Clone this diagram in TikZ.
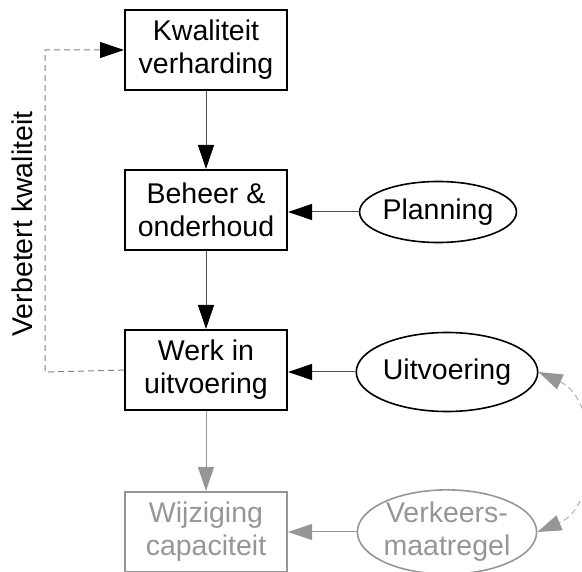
\documentclass[tikz,border=0pt]{standalone}
\usepackage{fontspec}
\setmainfont{Liberation Sans}
\usetikzlibrary{shapes.geometric,arrows.meta}
\definecolor{fade}{RGB}{150,150,150}
\definecolor{linec}{RGB}{80,80,80}
\definecolor{dashc}{RGB}{130,130,130}
\definecolor{dashl}{RGB}{175,175,175}
\tikzset{
  boxn/.style={draw=black, line width=2pt, minimum width=162pt, minimum height=80pt, align=center, inner sep=0pt, font=\fontsize{28.5}{33}\selectfont},
  elln/.style={draw=black, line width=1.6pt, ellipse, inner sep=0pt, align=center, font=\fontsize{28.5}{33}\selectfont},
  tip/.style={-{Triangle[length=24pt,width=16pt,fill=#1,color=#1]}},
  conn/.style={draw=linec, line width=1pt, tip=black},
  fconn/.style={draw=fade, line width=1pt, tip=fade},
  faded/.style={draw=fade, text=fade},
}
\begin{document}
\begin{tikzpicture}[x=1pt,y=-1pt]
\useasboundingbox (0,0) rectangle (582,572);
\clip (0,0) rectangle (582,572);
\node[boxn] (kv) at (206,50) {Kwaliteit\\verharding};
\node[boxn] (bo) at (206,210) {Beheer \&\\onderhoud};
\node[boxn] (wu) at (206,370) {Werk in\\uitvoering};
\node[boxn, faded] (wc) at (206,532) {Wijziging\\capaciteit};
\node[elln, minimum width=144pt, minimum height=61pt] (pl) at (438,212) {Planning};
\node[elln, minimum width=160pt, minimum height=79pt] (ui) at (447,372) {Uitvoering};
\node[elln, faded, minimum width=161pt, minimum height=80pt] (vm) at (447,532) {Verkeers-\\maatregel};
\draw[conn] (kv) -- (bo);
\draw[conn] (bo) -- (wu);
\draw[fconn] (wu) -- (wc);
\draw[conn] (pl) -- (bo.east |- pl);
\draw[conn] (ui) -- (wu.east |- ui);
\draw[fconn] (vm) -- (wc.east |- vm);
\coordinate (c1) at (45,372);
\coordinate (c2) at (45,50);
\draw[draw=dashc, line width=1pt, dash pattern=on 6pt off 4pt, tip=black]
  (wu.west) -- (c1) -- (c2) -- (kv.west);
\node[rotate=90, font=\fontsize{28.5}{33}\selectfont] (lbl) at (22,224) {Verbetert kwaliteit};
\draw[draw=dashl, line width=1pt, dash pattern=on 6pt off 4pt, {Triangle[length=24pt,width=16pt,fill=fade,color=fade]}-{Triangle[length=24pt,width=16pt,fill=fade,color=fade]}]
  (ui.east) .. controls (600,400) and (600,506) .. (vm.east);
\end{tikzpicture}
\end{document}
